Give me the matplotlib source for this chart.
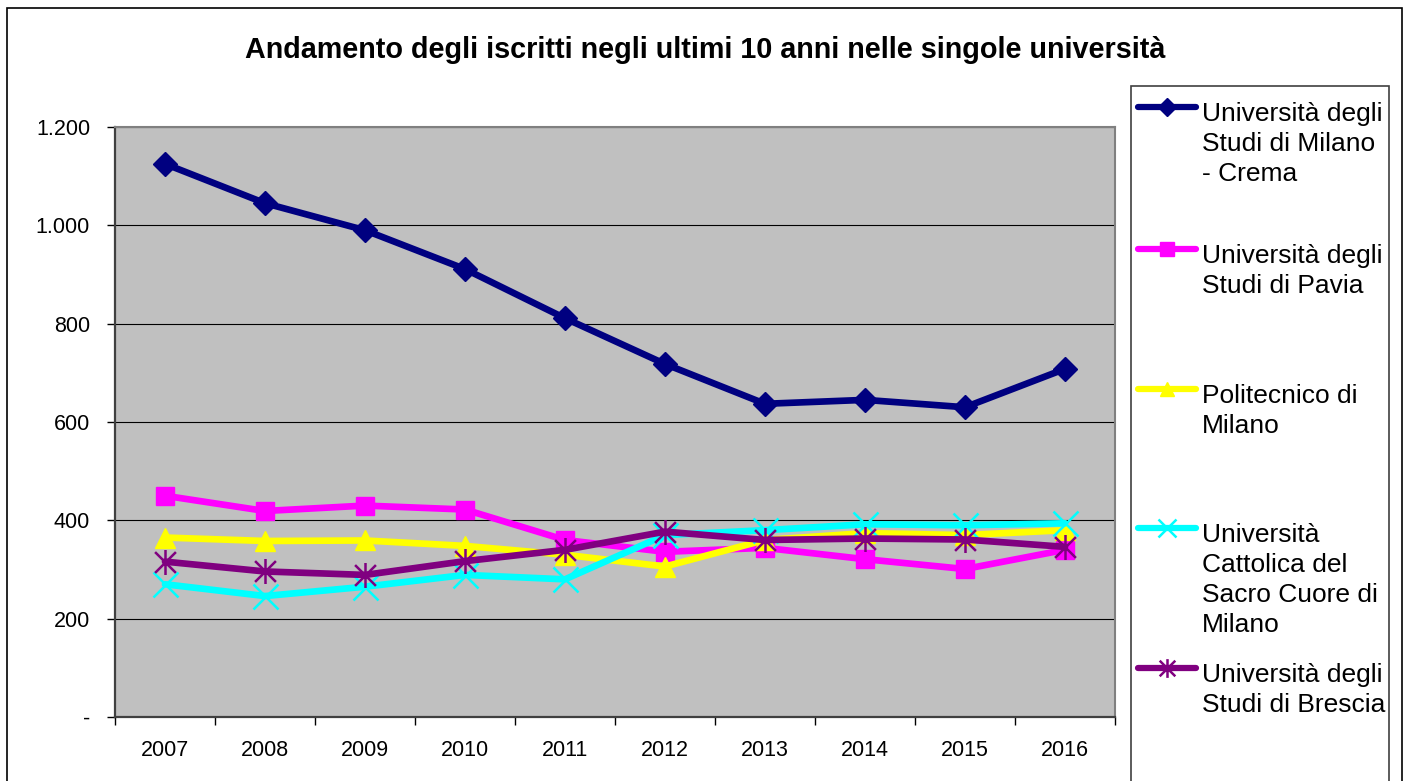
import matplotlib
matplotlib.use("Agg")
import matplotlib.pyplot as plt
from matplotlib.lines import Line2D
from matplotlib.patches import Rectangle
from matplotlib.path import Path
import numpy as np

plt.rcParams['font.family'] = ['Liberation Sans', 'DejaVu Sans']

# data
years = ['2007', '2008', '2009', '2010', '2011', '2012', '2013', '2014', '2015', '2016']
milano_crema = [1125, 1045, 990, 911, 811, 718, 637, 645, 630, 708]
pavia = [450, 419, 430, 422, 360, 336, 344, 321, 301, 340]
politecnico = [365, 358, 359, 348, 330, 306, 360, 374, 370, 380]
cattolica = [270, 246, 265, 289, 280, 370, 380, 392, 390, 394]
brescia = [316, 296, 289, 317, 340, 377, 360, 363, 361, 346]

y_ticks = [0, 200, 400, 600, 800, 1000, 1200]
y_labels = ['-', '200', '400', '600', '800', '1.000', '1.200']

title = "Andamento degli iscritti negli ultimi 10 anni nelle singole università"
legend_lines = [
    ["Università degli", "Studi di Milano", "- Crema"],
    ["Università degli", "Studi di Pavia"],
    ["Politecnico di", "Milano"],
    ["Università", "Cattolica del", "Sacro Cuore di", "Milano"],
    ["Università degli", "Studi di Brescia"],
]

W, H = 1409, 781
def fx(x):
    return x / W
def fy(y):
    return 1 - y / H

# excel style asterisk: an x plus a vertical bar
star = Path(
    [(-0.5, -0.5), (0.5, 0.5), (-0.5, 0.5), (0.5, -0.5), (0, -0.6), (0, 0.6)],
    [Path.MOVETO, Path.LINETO, Path.MOVETO, Path.LINETO, Path.MOVETO, Path.LINETO],
)

series = [
    (milano_crema, dict(color='#000080', marker='D', ms=12)),
    (pavia, dict(color='#FF00FF', marker='s', ms=13)),
    (politecnico, dict(color='#FFFF00', marker='^', ms=14)),
    (cattolica, dict(color='#00FFFF', marker='x', ms=18, mew=1.8)),
    (brescia, dict(color='#800080', marker=star, ms=18, mew=1.8)),
]

fig = plt.figure(figsize=(W / 100, H / 100), dpi=100)
ax = fig.add_axes([fx(115), fy(717), fx(1115) - fx(115), fy(127) - fy(717)])
ax.set_facecolor('#C0C0C0')

xpos = np.arange(len(years)) + 0.5
for vals, st in series:
    ax.plot(xpos, vals, lw=4.8, solid_joinstyle='round', solid_capstyle='round',
            markeredgecolor=st['color'], **st, zorder=3)

ax.set_xlim(0, len(years))
ax.set_ylim(0, 1200)
ax.set_yticks(y_ticks)
ax.set_yticklabels(y_labels)
ax.set_xticks(np.arange(len(years) + 1))
ax.set_xticklabels([])
ax.set_xticks(xpos, minor=True)
ax.set_xticklabels(years, minor=True)
ax.tick_params(axis='x', which='minor', length=0, pad=16.5, labelsize=15.5)
ax.tick_params(axis='x', which='major', length=6, width=1, direction='out')
ax.tick_params(axis='y', length=6, width=1, direction='out', pad=12, labelsize=15.5)
ax.yaxis.grid(True, color='black', lw=0.8)
ax.set_axisbelow(True)
for s in ['top', 'right']:
    ax.spines[s].set_color('#808080')
    ax.spines[s].set_linewidth(1.5)
for s in ['left', 'bottom']:
    ax.spines[s].set_color('#404040')
    ax.spines[s].set_linewidth(1.6)

fig.text(fx(705), fy(58), title, ha='center', va='baseline', fontsize=20.7, fontweight='bold')

# outer chart border and legend box
fig.patches.append(Rectangle((fx(7), fy(800)), fx(1402) - fx(7), fy(8) - fy(800),
                             transform=fig.transFigure, fill=False, ec='black', lw=1.2))
fig.patches.append(Rectangle((fx(1131), fy(800)), fx(1389) - fx(1131), fy(86) - fy(800),
                             transform=fig.transFigure, fill=False, ec='#404040', lw=1.2))

# legend entries placed like the excel legend
handle_y = [107, 249, 389, 528, 668]
for (vals, st), lines, hy in zip(series, legend_lines, handle_y):
    fig.add_artist(Line2D([fx(1138), fx(1196)], [fy(hy), fy(hy)], transform=fig.transFigure,
                          color=st['color'], lw=4.5, solid_capstyle='round'))
    fig.add_artist(Line2D([fx(1167)], [fy(hy)], transform=fig.transFigure, ls='none',
                          color=st['color'], marker=st['marker'], ms=st['ms'] * 0.75,
                          mew=st.get('mew', 1), markeredgecolor=st['color']))
    for i, line in enumerate(lines):
        fig.text(fx(1202), fy(hy + 14 + 30 * i), line, ha='left', va='baseline', fontsize=19)

fig.savefig('out.png', dpi=100)
